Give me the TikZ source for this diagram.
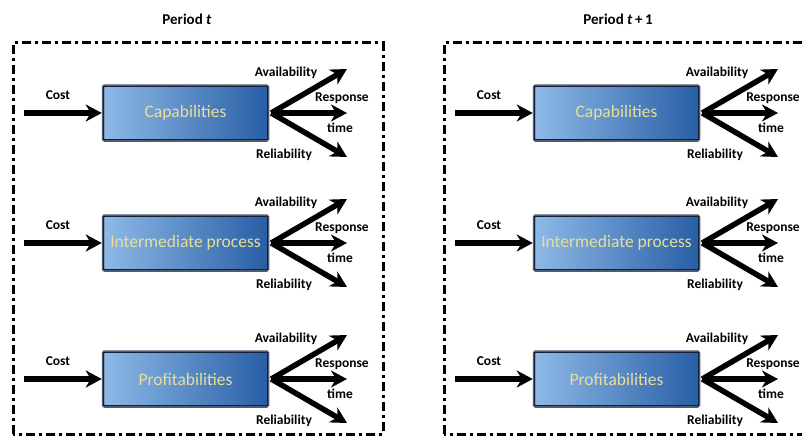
\documentclass[tikz,border=0pt]{standalone}
\usepackage{fontspec}
\setmainfont{Carlito}
\usetikzlibrary{arrows.meta}
\definecolor{boxL}{RGB}{142,186,232}
\definecolor{boxR}{RGB}{40,94,165}
\definecolor{boxedge}{RGB}{80,92,112}
\definecolor{boxin}{RGB}{20,32,55}
\definecolor{boxtxt}{RGB}{232,222,150}
\begin{document}
\begin{tikzpicture}[x=1pt,y=-1pt,
 frame/.style={line width=3pt, dash pattern=on 9pt off 4pt on 3pt off 4pt},
 procbox/.style={minimum width=165pt, minimum height=55pt, inner sep=0pt, left color=boxL, right color=boxR, draw=boxedge, line width=2.5pt, rounded corners=1.5pt, font=\fontsize{17.5}{20}\selectfont, text=boxtxt},
 bigarrow/.style={line width=5.5pt, -{Stealth[length=16pt,width=17pt,inset=5pt]}},
 lab/.style={font=\bfseries\fontsize{13.5}{16}\selectfont, inner sep=0pt},
 title/.style={font=\bfseries\fontsize{15}{18}\selectfont, inner sep=0pt}]
\useasboundingbox (0,0) rectangle (802,436);
\clip (0,0) rectangle (802,436);
\foreach \pn/\dx/\ttl in {L/0/{Period \textit{t}}, R/431/{Period \textit{t}\,+\,1}} {
  \node[title] (title\pn) at (187+\dx,19) {\ttl};
  \draw[frame] (13+\dx,434) -- (13+\dx,43) -- (383+\dx,43) -- (383+\dx,434) -- cycle;
  \foreach \rw/\yy/\txt in {a/113/Capabilities, b/243/Intermediate process, c/379/Profitabilities} {
    \node[procbox] (box\pn\rw) at (185.5+\dx,\yy) {\txt};
    \draw[boxin, line width=0.9pt] ([shift={(2,2)}]box\pn\rw.north west) rectangle ([shift={(-2,-2)}]box\pn\rw.south east);
    \coordinate (cs\pn\rw) at (24+\dx,\yy);
    \draw[bigarrow] (cs\pn\rw) -- (box\pn\rw.west);
    \node[lab] (cost\pn\rw) at (58+\dx,\yy-18) {Cost};
    \coordinate (fo\pn\rw) at ([xshift=2pt]box\pn\rw.east);
    \coordinate (ta\pn\rw) at (347+\dx,\yy-44);
    \coordinate (tb\pn\rw) at (347+\dx,\yy);
    \coordinate (tc\pn\rw) at (347+\dx,\yy+44);
    \draw[bigarrow] (fo\pn\rw) -- (ta\pn\rw);
    \draw[bigarrow] (fo\pn\rw) -- (tb\pn\rw);
    \draw[bigarrow] (fo\pn\rw) -- (tc\pn\rw);
    \node[lab] (av\pn\rw) at (286+\dx,\yy-40) {Availability};
    \node[lab] (rs\pn\rw) at (342+\dx,\yy-15) {Response};
    \node[lab] (tm\pn\rw) at (340+\dx,\yy+15) {time};
    \node[lab] (rl\pn\rw) at (284+\dx,\yy+42) {Reliability};
  }
}
\end{tikzpicture}
\end{document}
